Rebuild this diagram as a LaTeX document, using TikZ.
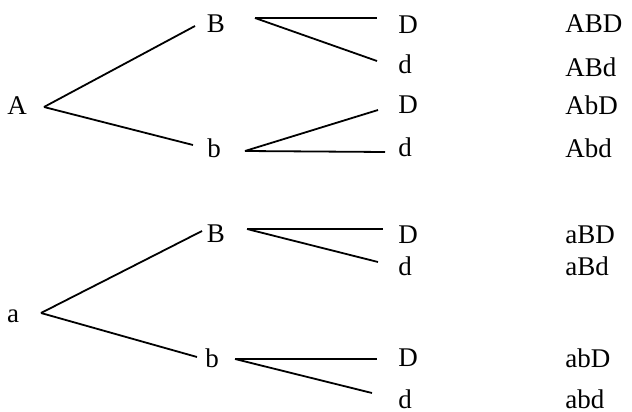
\documentclass[tikz,border=0pt]{standalone}
\usepackage{fontspec}
\setmainfont{Liberation Serif}
\usetikzlibrary{calc}

\begin{document}
\begin{tikzpicture}[x=0.5pt, y=-0.5pt,
  gene/.style={inner sep=0pt, font=\fontsize{13.5}{16}\selectfont},
  combo/.style={inner sep=0pt, anchor=west, font=\fontsize{13.5}{16}\selectfont},
  branch/.style={line width=0.9pt, black}]
\useasboundingbox (0,0) rectangle (632,412);
% first parent A
\node[gene] (A) at (17,106) {A};
\node[gene] (AB) at (216,24) {B};
\node[gene] (Ab) at (214,148) {b};
\node[gene] (ABD) at (408,25) {D};
\node[gene] (ABd) at (405,64) {d};
\node[gene] (AbD) at (408,105) {D};
\node[gene] (Abd) at (405,147) {d};
% second parent a
\node[gene] (a) at (13,316) {a};
\node[gene] (aB) at (216,234) {B};
\node[gene] (ab) at (212,358) {b};
\node[gene] (aBD) at (408,235) {D};
\node[gene] (aBd) at (405,266) {d};
\node[gene] (abD) at (408,358) {D};
\node[gene] (abd) at (405,399) {d};
% genotypes
\node[combo] (gABD) at (565,24) {ABD};
\node[combo] (gABd) at (565,67) {ABd};
\node[combo] (gAbD) at (565,105) {AbD};
\node[combo] (gAbd) at (565,148) {Abd};
\node[combo] (gaBD) at (565,235) {aBD};
\node[combo] (gaBd) at (565,266) {aBd};
\node[combo] (gabD) at (565,358) {abD};
\node[combo] (gabd) at (565,399) {abd};
% branches
\draw[branch] ($(A)+(27,1)$) -- ($(AB)+(-21,2)$);
\draw[branch] ($(A)+(27,1)$) -- ($(Ab)+(-21,-3)$);
\draw[branch] ($(AB)+(39,-6)$) -- ($(ABD)+(-31,-7)$);
\draw[branch] ($(AB)+(39,-6)$) -- ($(ABd)+(-28,-3)$);
\draw[branch] ($(Ab)+(31,3)$) -- ($(AbD)+(-30,5)$);
\draw[branch] ($(Ab)+(31,3)$) -- ($(Abd)+(-20,5)$);
\draw[branch] ($(a)+(28,-3)$) -- ($(aB)+(-14,-3)$);
\draw[branch] ($(a)+(28,-3)$) -- ($(ab)+(-15,-1)$);
\draw[branch] ($(aB)+(31,-5)$) -- ($(aBD)+(-25,-6)$);
\draw[branch] ($(aB)+(31,-5)$) -- ($(aBd)+(-27,-4)$);
\draw[branch] ($(ab)+(23,1)$) -- ($(abD)+(-31,1)$);
\draw[branch] ($(ab)+(23,1)$) -- ($(abd)+(-33,-6)$);
\end{tikzpicture}
\end{document}
